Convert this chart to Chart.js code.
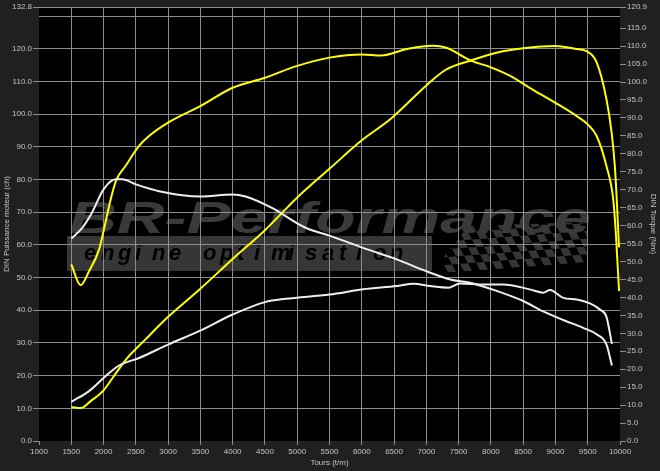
<!DOCTYPE html>
<html>
<head>
<meta charset="utf-8">
<script src="https://cdn.jsdelivr.net/npm/chart.js@4.4.0/dist/chart.umd.min.js"></script>
<style>
html, body { margin: 0; padding: 0; background: #202020; }
canvas { display: block; }
</style>
</head>
<body>
<canvas id="dyno" width="660" height="471"></canvas>
<script>
// Courbes banc de puissance - stock (blanc) vs optimisé (jaune)
var tunedPowerRpm = [1500, 1650, 1800, 2000, 2200, 2350, 2650, 3000, 3500, 4000, 4500, 4750, 5000, 5500, 6000, 6450, 7000, 7300, 7700, 8100, 8500, 9000, 9300, 9500, 9640, 9790, 9870, 9920, 9955, 9985];
var tunedPowerCh = [10.4, 10.1, 12.2, 15.5, 21.0, 25.0, 31.1, 38.0, 46.6, 55.7, 64.5, 69.5, 74.5, 83.3, 92.0, 98.6, 108.8, 113.6, 116.5, 118.9, 120.2, 120.9, 120.0, 119.1, 115.8, 104.6, 94.4, 84.1, 71.9, 59.2];

var tunedTorqueRpm = [1500, 1645, 1775, 1930, 2005, 2110, 2200, 2340, 2550, 2700, 3000, 3500, 4000, 4500, 5000, 5500, 6000, 6300, 6700, 7100, 7300, 7700, 8000, 8300, 8600, 9000, 9330, 9500, 9640, 9790, 9895, 9935, 9985];
var tunedTorqueNm = [49.2, 43.4, 47.3, 53.3, 58.9, 67.3, 72.8, 76.6, 82.2, 84.9, 88.7, 93.3, 98.4, 101.2, 104.5, 106.8, 107.7, 107.4, 109.2, 110.1, 109.6, 105.9, 104.1, 101.7, 98.4, 94.2, 90.5, 88.2, 84.9, 76.6, 67.3, 58.1, 41.8];

var stockPowerRpm = [1500, 1770, 2030, 2240, 2550, 3000, 3480, 4000, 4500, 4820, 5500, 6020, 6540, 6800, 7060, 7340, 7520, 7830, 8190, 8600, 8810, 8915, 9120, 9330, 9535, 9690, 9790, 9875];
var stockPowerCh = [12.0, 15.2, 19.8, 23.1, 25.4, 29.5, 33.6, 38.7, 42.5, 43.5, 44.8, 46.4, 47.4, 48.1, 47.4, 46.9, 48.2, 47.9, 47.9, 46.4, 45.4, 46.2, 43.8, 43.3, 42.1, 40.2, 38.0, 29.7];

var stockTorqueRpm = [1500, 1670, 1820, 2000, 2190, 2290, 2500, 2860, 3500, 4000, 4200, 4600, 5130, 5500, 6020, 6540, 7000, 7370, 7680, 8090, 8500, 8810, 9120, 9430, 9640, 9790, 9875];
var stockTorqueNm = [56.4, 59.4, 63.6, 70.1, 72.9, 72.9, 71.5, 69.6, 68.1, 68.7, 68.1, 65.0, 59.4, 57.2, 53.8, 50.6, 47.3, 45.0, 44.1, 41.8, 39.0, 36.1, 33.7, 31.5, 29.7, 26.9, 21.0];

var powerTicks = [0, 10, 20, 30, 40, 50, 60, 70, 80, 90, 100, 110, 120, 130, 132.8];
var torqueTicks = [0, 5, 10, 15, 20, 25, 30, 35, 40, 45, 50, 55, 60, 65, 70, 75, 80, 85, 90, 95, 100, 105, 110, 115, 120.9];

var labelColor = '#c4c4c4';
var gridColor = '#8c8c8c';
var smallFont = { family: 'Liberation Sans, Arial, sans-serif', size: 8 };

function pts(xs, ys) {
    return xs.map(function(x, i) { return { x: x, y: ys[i] }; });
}

// fond noir de la zone + filigrane
var backdrop = {
    id: 'backdrop',
    beforeDraw: function(chart) {
        var ctx = chart.ctx, a = chart.chartArea;
        ctx.save();
        ctx.fillStyle = '#202020';
        ctx.fillRect(0, 0, chart.width, chart.height);
        ctx.fillStyle = '#000';
        ctx.fillRect(a.left, a.top, a.right - a.left, a.bottom - a.top);

        // damier
        ctx.save();
        ctx.beginPath();
        ctx.moveTo(432, 272); ctx.lineTo(468, 226); ctx.lineTo(588, 222); ctx.lineTo(588, 272);
        ctx.closePath();
        ctx.clip();
        ctx.fillStyle = '#363636';
        for (var r = 0; r < 7; r++) {
            for (var c = 0; c < 24; c++) {
                if ((r + c) % 2) continue;
                var x0 = 420 + c * 8 + r * 4, y0 = 220 + r * 7.5 - c * 0.6;
                ctx.beginPath();
                ctx.moveTo(x0, y0);
                ctx.lineTo(x0 + 8, y0 - 0.6);
                ctx.lineTo(x0 + 12, y0 + 6.9);
                ctx.lineTo(x0 + 4, y0 + 7.5);
                ctx.closePath();
                ctx.fill();
            }
        }
        ctx.restore();

        // bandeau
        ctx.fillStyle = '#363636';
        ctx.fillRect(67, 236, 365, 35);
        ctx.fillStyle = '#000';
        ctx.font = 'italic bold 22px "Liberation Sans", Arial, sans-serif';
        var sub = 'engine optimisation';
        for (var i = 0; i < sub.length; i++) {
            ctx.fillText(sub[i], 84 + i * 17, 260);
        }

        // logo
        ctx.font = 'italic bold 44px "Liberation Sans", Arial, sans-serif';
        var logo = 'BR-Performance';
        var w = ctx.measureText(logo).width;
        ctx.translate(69, 233);
        ctx.scale(522 / w, 1);
        ctx.fillStyle = '#3a3a3a';
        ctx.fillText(logo, 0, 0);
        ctx.restore();
    }
};

new Chart(document.getElementById('dyno').getContext('2d'), {
    type: 'line',
    data: {
        datasets: [
            { label: 'Puissance stock', data: pts(stockPowerRpm, stockPowerCh), yAxisID: 'yPower', borderColor: '#eeeeee' },
            { label: 'Couple stock', data: pts(stockTorqueRpm, stockTorqueNm), yAxisID: 'yTorque', borderColor: '#eeeeee' },
            { label: 'Puissance optimisée', data: pts(tunedPowerRpm, tunedPowerCh), yAxisID: 'yPower', borderColor: '#ffff00' },
            { label: 'Couple optimisé', data: pts(tunedTorqueRpm, tunedTorqueNm), yAxisID: 'yTorque', borderColor: '#ffff00' }
        ]
    },
    options: {
        responsive: false,
        animation: false,
        devicePixelRatio: 1,
        layout: { padding: { top: 7, left: 0, right: 0, bottom: 0 } },
        elements: {
            line: { borderWidth: 2, cubicInterpolationMode: 'monotone' },
            point: { radius: 0 }
        },
        plugins: { legend: { display: false }, tooltip: { enabled: false } },
        scales: {
            x: {
                type: 'linear', position: 'bottom', min: 1000, max: 10000,
                border: { display: false },
                grid: {
                    color: function(c) { return (c.tick && (c.tick.value === 1000 || c.tick.value === 10000)) ? 'rgba(0,0,0,0)' : gridColor; },
                    tickColor: gridColor, tickLength: 4
                },
                ticks: { stepSize: 500, color: labelColor, font: smallFont, padding: 2, maxRotation: 0, autoSkip: false,
                    callback: function(v) { return String(v); } },
                title: { display: true, text: 'Tours (t/m)', color: labelColor, font: smallFont, padding: { top: 0, bottom: 3 } },
                afterFit: function(s) { s.height = 30; }
            },
            yPower: {
                type: 'linear', position: 'left', min: 0, max: 132.8,
                border: { display: false },
                grid: {
                    color: function(c) { return (c.tick && c.tick.value === 0) ? 'rgba(0,0,0,0)' : gridColor; },
                    tickColor: function(c) { return (c.tick && c.tick.value === 130) ? 'rgba(0,0,0,0)' : gridColor; },
                    tickLength: 6
                },
                afterBuildTicks: function(s) { s.ticks = powerTicks.map(function(v) { return { value: v }; }); },
                ticks: { color: labelColor, font: smallFont, padding: 1, autoSkip: false,
                    callback: function(v) { return v === 130 ? '' : v.toFixed(1); } },
                title: { display: true, text: 'DIN Puissance moteur (ch)', color: labelColor, font: smallFont, padding: { top: 1.5, bottom: 0 } },
                afterFit: function(s) { s.width = 39; }
            },
            yTorque: {
                type: 'linear', position: 'right', min: 0, max: 120.9,
                border: { display: false },
                grid: { drawOnChartArea: false, tickColor: gridColor, tickLength: 6 },
                afterBuildTicks: function(s) { s.ticks = torqueTicks.map(function(v) { return { value: v }; }); },
                ticks: { color: labelColor, font: smallFont, padding: 1, autoSkip: false,
                    callback: function(v) { return v.toFixed(1); } },
                title: { display: true, text: 'DIN Torque (Nm)', color: labelColor, font: smallFont, padding: { top: 1.5, bottom: 0 } },
                afterFit: function(s) { s.width = 40; }
            }
        }
    },
    plugins: [backdrop]
});
</script>
</body>
</html>
